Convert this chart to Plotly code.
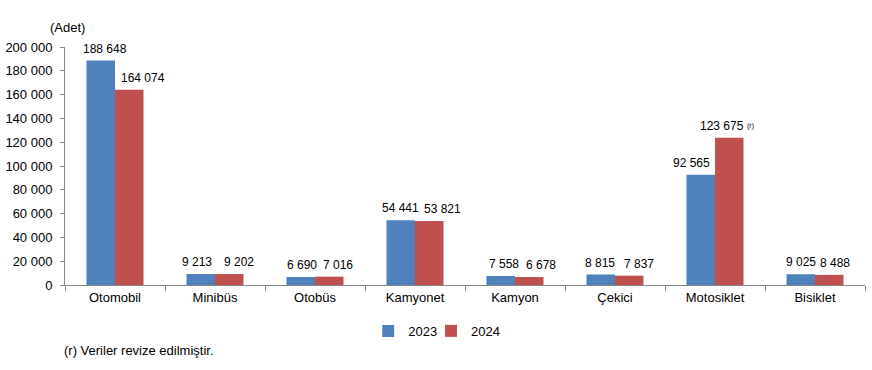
import plotly.graph_objects as go

categories = ["Otomobil", "Minibüs", "Otobüs", "Kamyonet", "Kamyon", "Çekici", "Motosiklet", "Bisiklet"]
values_2023 = [188648, 9213, 6690, 54441, 7558, 8815, 92565, 9025]
values_2024 = [164074, 9202, 7016, 53821, 6678, 7837, 123675, 8488]
tick_vals = [0, 20000, 40000, 60000, 80000, 100000, 120000, 140000, 160000, 180000, 200000]
revised_category = "Motosiklet"

FONT = "Liberation Sans, Arial, sans-serif"
BLUE = "#4F81BD"
RED = "#C0504D"
AXIS = "#868686"

# label placement tweaks (pixels, relative to bar centre), mimicking the reference
label_dx_2023 = [4, -4, 1, 0, 3, -1, -9, 0]
label_dx_2024 = [14, 10, 9, 13, 12, 10, -7, 6]
bar_half = 14.3


def fmt(v):
    return f"{v:,}".replace(",", " ")


fig = go.Figure()
fig.add_trace(go.Bar(x=categories, y=values_2023, name="2023", marker_color=BLUE,
                     marker_line_width=0, legend="legend"))
fig.add_trace(go.Bar(x=categories, y=values_2024, name="2024", marker_color=RED,
                     marker_line_width=0, legend="legend2"))

for cat, v, dx in zip(categories, values_2023, label_dx_2023):
    fig.add_annotation(text=fmt(v), xref="x", yref="y", x=cat, y=v, xshift=-bar_half + dx,
                       yshift=3, yanchor="bottom", xanchor="center", showarrow=False,
                       font=dict(size=12, color="black", family=FONT))
for cat, v, dx in zip(categories, values_2024, label_dx_2024):
    fig.add_annotation(text=fmt(v), xref="x", yref="y", x=cat, y=v, xshift=bar_half + dx,
                       yshift=3, yanchor="bottom", xanchor="center", showarrow=False,
                       font=dict(size=12, color="black", family=FONT))

rev_val = values_2024[categories.index(revised_category)]
fig.add_annotation(text="(r)", xref="x", yref="y", x=revised_category, y=rev_val,
                   xshift=35, yshift=12, showarrow=False,
                   font=dict(size=7, color="black", family=FONT))

legend_common = dict(orientation="h", xanchor="left", y=-0.193, yanchor="middle",
                     font=dict(size=13), bgcolor="rgba(0,0,0,0)")

fig.update_layout(
    width=872, height=370,
    margin=dict(l=65, r=7, t=47, b=85, autoexpand=False),
    plot_bgcolor="white", paper_bgcolor="white",
    separators=". ",
    barmode="group", bargap=0.43, bargroupgap=0,
    font=dict(family=FONT, size=13, color="black"),
    showlegend=True,
    legend=dict(x=0.379, **legend_common),
    legend2=dict(x=0.4575, **legend_common),
    yaxis=dict(range=[0, 200000], tickvals=tick_vals, tickformat=",d", showgrid=False,
               showline=True, linecolor=AXIS, linewidth=1, ticks="outside",
               ticklen=4, tickcolor=AXIS, zeroline=False, automargin=False,
               ticklabelstandoff=5, tickfont=dict(size=13)),
    xaxis=dict(showline=True, linecolor=AXIS, linewidth=1, ticks="outside",
               tickson="boundaries", ticklen=5, tickcolor=AXIS, showgrid=False,
               automargin=False, tickfont=dict(size=13)),
)

fig.add_annotation(text="(Adet)", xref="paper", yref="paper", x=0.003, y=1.084,
                   xanchor="center", yanchor="middle", showarrow=False, font=dict(size=13))
fig.add_annotation(text="(r) Veriler revize edilmiştir.", xref="paper", yref="paper",
                   x=-0.004, y=-0.277, xanchor="left", yanchor="middle", showarrow=False,
                   font=dict(size=13))

fig.write_html("out.html", config={"displayModeBar": False},
               post_script="document.body.style.margin='0';")
